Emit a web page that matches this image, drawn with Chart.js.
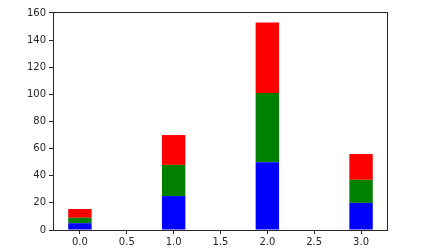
<!DOCTYPE html>
<html>
<head>
<meta charset="utf-8">
<script src="https://cdn.jsdelivr.net/npm/chart.js@4"></script>
<style>
    html, body { margin: 0; padding: 0; background: #fff; }
</style>
</head>
<body>
<canvas id="stackedBarGraph" width="427" height="251"></canvas>
<script>
var xPositions = [0, 1, 2, 3];
var blueValues = [5, 25, 50, 20];
var greenValues = [4, 23, 51, 17];
var redValues = [6.5, 22, 52, 19];
var xTickValues = [0, 0.5, 1, 1.5, 2, 2.5, 3];
var yTickValues = [0, 20, 40, 60, 80, 100, 120, 140, 160];

function to_points(values) {
    var points = [];
    for (var i = 0; i < xPositions.length; i++) {
        points.push({ x: xPositions[i], y: values[i] });
    }
    return points;
}

// matplotlib style box around the plot area
var boxPlugin = {
    id: "boxPlugin",
    afterDatasetsDraw: function (chart) {
        var area = chart.chartArea;
        var ctx = chart.ctx;
        ctx.save();
        ctx.strokeStyle = "#262626";
        ctx.lineWidth = 1;
        ctx.strokeRect(area.left + 0.5, area.top + 0.5, area.right - area.left - 1, area.bottom - area.top);
        ctx.restore();
    },
};

var tickFont = { family: "DejaVu Sans", size: 10 };

var config = {
    type: "bar",
    data: {
        datasets: [
            { label: "blue", data: to_points(blueValues), backgroundColor: "#0000ff" },
            { label: "green", data: to_points(greenValues), backgroundColor: "#008000" },
            { label: "red", data: to_points(redValues), backgroundColor: "#ff0000" },
        ],
    },
    options: {
        responsive: false,
        animation: false,
        // bar width is measured against the 0.5 tick spacing, so 0.5 here gives a 0.25 wide bar
        categoryPercentage: 1,
        barPercentage: 0.5,
        layout: { padding: { top: 12, right: 39, left: 0, bottom: 0 } },
        plugins: {
            legend: { display: false },
            tooltip: { enabled: false },
        },
        scales: {
            x: {
                type: "linear",
                stacked: true,
                offset: false,
                min: -0.2875,
                max: 3.2875,
                grid: { offset: false, drawOnChartArea: false, drawTicks: true, tickLength: 4, color: "#262626" },
                border: { display: false },
                afterBuildTicks: function (scale) {
                    scale.ticks = xTickValues.map(function (v) { return { value: v }; });
                },
                afterFit: function (scale) {
                    scale.height = 21;
                },
                ticks: {
                    font: tickFont,
                    color: "#262626",
                    padding: 2,
                    maxRotation: 0,
                    autoSkip: false,
                    callback: function (value) {
                        return Number(value).toFixed(1);
                    },
                },
            },
            y: {
                stacked: true,
                min: 0,
                max: 160.7,
                grid: { drawOnChartArea: false, drawTicks: true, tickLength: 4, color: "#262626" },
                border: { display: false },
                afterBuildTicks: function (scale) {
                    scale.ticks = yTickValues.map(function (v) { return { value: v }; });
                },
                afterFit: function (scale) {
                    scale.width = 53;
                },
                ticks: {
                    font: tickFont,
                    color: "#262626",
                    padding: 3,
                    autoSkip: false,
                },
            },
        },
    },
    plugins: [boxPlugin],
};

var stackedBarGraph = new Chart("stackedBarGraph", config);
</script>
</body>
</html>
